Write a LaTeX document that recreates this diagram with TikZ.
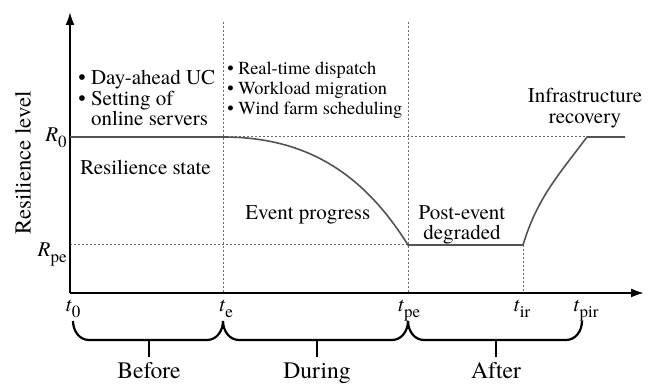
\documentclass[tikz,border=0pt]{standalone}
\usepackage{fontspec}
\setmainfont{TeX Gyre Termes}
\usetikzlibrary{arrows.meta}
\newcommand{\lvsub}[2]{\textit{#1}\raisebox{-0.55ex}{\fontsize{8.5}{9}\selectfont #2}}

\begin{document}
\begin{tikzpicture}[x=0.5pt,y=0.5pt,
    axis/.style={line width=1pt,-{Latex[length=6.5pt,width=4.5pt]}},
    guide/.style={line width=0.5pt,gray!85!black,dash pattern=on 1.1pt off 0.9pt},
    level/.style={line width=0.8pt,gray!65!black},
    bracket/.style={line width=1.1pt},
    lbl/.style={font=\fontsize{10.5}{10.3}\selectfont,inner sep=0pt},
    act/.style={font=\fontsize{9.2}{10}\selectfont,inner sep=0pt,align=left},
    tick/.style={font=\fontsize{10.5}{11}\selectfont,inner sep=0pt},
    phase/.style={font=\fontsize{11.8}{12}\selectfont,inner sep=0pt}]
  \useasboundingbox (0,0) rectangle (656,384);

  % key points of the curve
  \coordinate (O) at (70,91);
  \coordinate (Ytop) at (70,372);
  \coordinate (Xend) at (644,91);
  \coordinate (S) at (70,247);
  \coordinate (A) at (223,247);
  \coordinate (B) at (408,139);
  \coordinate (C) at (523,139);
  \coordinate (D) at (587,247);
  \coordinate (E) at (625,247);
  \coordinate (Rpe) at (70,139);
  \coordinate (Atop) at (223,362);
  \coordinate (Btop) at (408,362);

  % guide lines
  \draw[guide] (Atop) -- (A |- O);
  \draw[guide] (Btop) -- (B |- O);
  \draw[guide] (C) -- (C |- O);
  \draw[guide] (A) -- (D);
  \draw[guide] (Rpe) -- (B);

  % axes
  \draw[axis] (O) -- (Ytop);
  \draw[axis] (O) -- (Xend);

  % resilience curve
  \draw[level] (S) -- (A) to[out=0,in=122] (B) -- (C) to[out=73,in=233] (D) -- (E);

  % axis labels
  \node[lbl,font=\fontsize{11.4}{12}\selectfont,rotate=90] (ylab) at (23,221) {Resilience level};
  \node[tick,anchor=base east] (r0) at (67,242) {\lvsub{R}{0}};
  \node[tick,anchor=base east] (rpe) at (67,127) {\lvsub{R}{pe}};
  \node[tick,anchor=base] (t0) at (73,72) {\lvsub{t}{0}};
  \node[tick,anchor=base] (te) at (226,72) {\lvsub{t}{e}};
  \node[tick,anchor=base] (tpe) at (409,72) {\lvsub{t}{pe}};
  \node[tick,anchor=base] (tir) at (522,72) {\lvsub{t}{ir}};
  \node[tick,anchor=base] (tpir) at (586,72) {\lvsub{t}{pir}};

  % stage texts
  \node[lbl,align=left,anchor=north west] (plan) at (78,314)
    {\textbullet\ Day-ahead UC\\\textbullet\ Setting of\\\phantom{\textbullet\ }online servers};
  \node[act,anchor=north west] (ops) at (227,322)
    {\textbullet\ Real-time dispatch\\\textbullet\ Workload migration\\\textbullet\ Wind farm scheduling};
  \node[lbl,anchor=north west] (state) at (80,224) {Resilience state};
  \node[lbl,anchor=north west] (event) at (245,179) {Event progress};
  \node[lbl,align=center,anchor=north] (post) at (462,179) {Post-event\\degraded};
  \node[lbl,align=center,anchor=north] (recov) at (585,296) {Infrastructure\\recovery};

  % braces under the time axis
  \foreach \l/\r/\m/\txt in {73/223/149/Before, 223/408/317/During, 408/582/496/After}{
    \draw[bracket] (\l,63) to[out=-90,in=180] (\l+16,44) -- (\r-16,44) to[out=0,in=-90] (\r,63);
    \draw[bracket] (\m,44) -- (\m,27);
    \node[phase,anchor=base] (ph-\txt) at (\m,5) {\txt};
  }
\end{tikzpicture}
\end{document}
